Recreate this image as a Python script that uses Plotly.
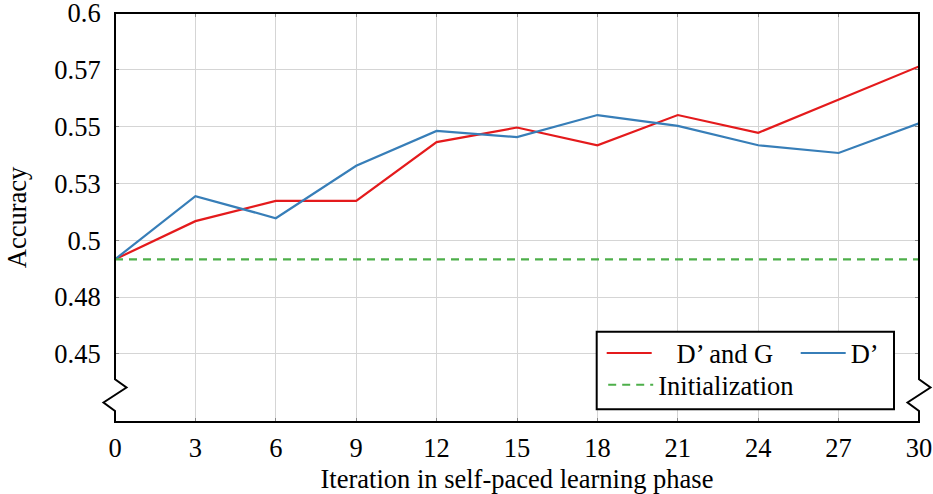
import plotly.graph_objects as go

iterations = [0, 3, 6, 9, 12, 15, 18, 21, 24, 27, 30]
acc_dg = [0.4916, 0.5084, 0.5173, 0.5173, 0.5432, 0.5496, 0.5418, 0.5551, 0.5473, 0.5618, 0.5765]
acc_d = [0.4916, 0.5194, 0.5097, 0.5328, 0.5481, 0.5454, 0.5551, 0.5503, 0.5418, 0.5384, 0.5515]
init_acc = [0.4916] * len(iterations)

y_tickvals = [0.45, 0.475, 0.5, 0.525, 0.55, 0.575, 0.6]
y_ticktext = ["0.45", "0.48", "0.5", "0.53", "0.55", "0.57", "0.6"]
x_tickvals = [0, 3, 6, 9, 12, 15, 18, 21, 24, 27, 30]

RED = "#e41a1c"
BLUE = "#377eb8"
GREEN = "#4daf4a"
FONT = "Liberation Serif"
FS = 26.5

fig = go.Figure()
fig.add_trace(go.Scatter(x=iterations, y=acc_dg, mode="lines", name="\u00a0\u00a0\u00a0D’ and G",
                         line=dict(color=RED, width=2.2), legend="legend"))
fig.add_trace(go.Scatter(x=iterations, y=acc_d, mode="lines", name="D’",
                         line=dict(color=BLUE, width=2.2), legend="legend2"))
fig.add_trace(go.Scatter(x=iterations, y=init_acc, mode="lines", name="Initialization",
                         line=dict(color=GREEN, width=2.2, dash="8px,6px"), legend="legend3"))

W, H = 933, 494
L, R, T, B = 115, 14, 13, 72
pw, ph = W - L - R, H - T - B


def px2x(px):
    return (px - L) / pw


def py2y(py):
    return (H - B - py) / ph


dx = 11.5 / pw
a, b, c, d = py2y(379.3), py2y(387.5), py2y(402.5), py2y(411.0)
path = (
    f"M 0,0 L 0,{d} L {-dx},{c} L {dx},{b} L 0,{a} L 0,1 "
    f"L 1,1 L 1,{a} L {1+dx},{b} L {1-dx},{c} L 1,{d} L 1,0 Z"
)
fig.add_shape(type="path", path=path, xref="paper", yref="paper",
              line=dict(color="black", width=2), fillcolor="rgba(0,0,0,0)", layer="above")
# legend box
fig.add_shape(type="rect", xref="paper", yref="paper",
              x0=px2x(596.7), x1=px2x(894), y0=py2y(409.3), y1=py2y(331.7),
              line=dict(color="black", width=2), fillcolor="white", layer="above")

leg_common = dict(bgcolor="rgba(0,0,0,0)", borderwidth=0, itemwidth=45,
                  font=dict(family=FONT, size=FS, color="black"),
                  xanchor="left", yanchor="middle", orientation="h")

axis_common = dict(showgrid=True, gridcolor="#d5d5d5", gridwidth=1, zeroline=False,
                   showline=True, linecolor="rgba(0,0,0,0)", linewidth=1,
                   ticks="inside", ticklen=4, tickcolor="#8a8a8a", mirror="ticks",
                   tickfont=dict(family=FONT, size=FS), ticklabeloverflow="allow",
                   automargin=False)

fig.update_layout(
    width=W, height=H,
    margin=dict(l=L, r=R, t=T, b=B, autoexpand=False),
    paper_bgcolor="white", plot_bgcolor="white",
    font=dict(family=FONT, size=FS, color="black"),
    showlegend=True,
    legend=dict(x=px2x(601.7), y=py2y(353.3), **leg_common),
    legend2=dict(x=px2x(795.7), y=py2y(353.3), **leg_common),
    legend3=dict(x=px2x(603.2), y=py2y(385), **leg_common),
    xaxis=dict(
        range=[0, 30.0001], tickvals=x_tickvals, ticklabelstandoff=2,
        title=dict(text="Iteration in self-paced learning phase", font=dict(family=FONT, size=FS), standoff=20),
        **axis_common,
    ),
    yaxis=dict(
        range=[0.42, 0.60001], tickvals=y_tickvals, ticktext=y_ticktext, ticklabelstandoff=8,
        title=dict(text="Accuracy", font=dict(family=FONT, size=FS), standoff=20),
        **axis_common,
    ),
)

fig.write_html("out.html", config={"displayModeBar": False},
               post_script="document.body.style.margin='0';document.body.style.overflow='hidden';")
